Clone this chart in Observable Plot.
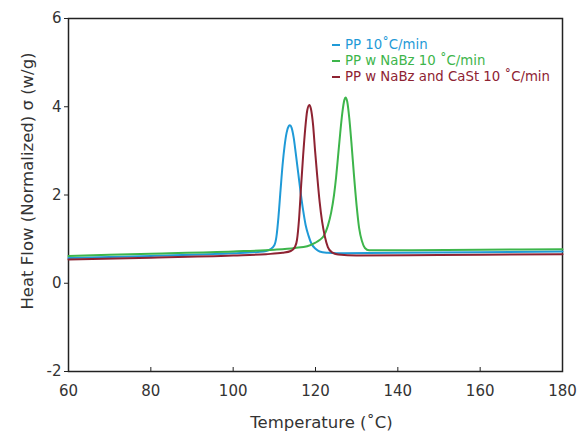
<!DOCTYPE html>
<html><head><meta charset="utf-8">
<script src="https://cdn.jsdelivr.net/npm/d3@7"></script>
<script src="https://cdn.jsdelivr.net/npm/@observablehq/plot@0.6"></script>
<style>
body{margin:0;background:#fff;}
#wrap{position:relative;width:586px;height:432px;font-family:"DejaVu Sans",sans-serif;}
#legend{position:absolute;left:332px;top:37px;font-size:13.3px;line-height:16px;}
#legend div{display:flex;align-items:center;white-space:nowrap;}
#legend span.sw{display:inline-block;width:8px;height:2px;margin-right:5px;}
#ylab{position:absolute;left:27px;top:181px;transform:translate(-50%,-50%) rotate(-90deg);font-size:16.5px;color:#333;white-space:nowrap;}
</style></head>
<body><div id="wrap"><div id="legend"></div><div id="ylab"></div></div>
<script>
const seriesNames = ["PP 10˚C/min", "PP w NaBz 10 ˚C/min", "PP w NaBz and CaSt 10 ˚C/min"];
const seriesColors = ["#1f9ad7", "#3db54b", "#8e2332"];

const ppTemp = [60,80,100,106,108,109,110,110.5,111,111.5,112,112.5,113,113.5,113.8,114.2,114.7,115.2,115.8,116.4,117,117.6,118.3,119,120,121,123,125,140,160,180];
const ppFlow = [0.57,0.62,0.68,0.71,0.73,0.77,0.86,1.05,1.5,2.1,2.68,3.12,3.42,3.56,3.58,3.52,3.30,2.95,2.50,2.05,1.65,1.32,1.08,0.90,0.78,0.72,0.69,0.68,0.69,0.70,0.72];

const nabzTemp = [60,80,100,110,115,118,120,121,122,123,123.8,124.5,125,125.5,126,126.5,127,127.3,127.7,128.2,128.8,129.3,130,130.6,131.3,132,133,140,160,180];
const nabzFlow = [0.62,0.67,0.72,0.76,0.80,0.84,0.92,0.98,1.07,1.3,1.6,2.0,2.4,2.9,3.4,3.85,4.15,4.21,4.12,3.75,3.1,2.5,1.75,1.25,0.95,0.80,0.75,0.75,0.76,0.77];

const castTemp = [60,80,100,108,112,114,115,115.5,116,116.5,117,117.5,118,118.5,118.9,119.4,119.9,120.4,121,121.6,122.3,123,124,125.5,130,150,180];
const castFlow = [0.54,0.58,0.63,0.66,0.69,0.73,0.82,0.98,1.45,2.2,2.9,3.5,3.92,4.04,3.95,3.6,3.0,2.45,1.85,1.4,1.05,0.82,0.70,0.65,0.63,0.64,0.66];

const xTicks = [60,80,100,120,140,160,180];
const yTicks = [-2,0,2,4,6];
const xLabel = "Temperature (˚C)";
const yLabel = "Heat Flow (Normalized) σ (w/g)";

const temps = [ppTemp, nabzTemp, castTemp];
const flows = [ppFlow, nabzFlow, castFlow];
const rows = [];
seriesNames.forEach((s,i)=>temps[i].forEach((t,j)=>rows.push({series:s,t,v:flows[i][j]})));

const chart = Plot.plot({
  width: 586, height: 432,
  marginLeft: 68, marginRight: 24, marginTop: 18, marginBottom: 61,
  style: {fontFamily: '"DejaVu Sans", sans-serif', fontSize: "15px", color: "#333", background: "#fff"},
  x: {domain: [60,180]},
  y: {domain: [-2,6]},
  color: {domain: seriesNames, range: seriesColors},
  marks: [
    Plot.frame({stroke: "#222", strokeWidth: 1.5}),
    Plot.axisX({ticks: xTicks, tickSize: -4, tickPadding: 18, tickFormat: d=>String(d), label: null, stroke: "#222"}),
    Plot.axisY({ticks: yTicks, tickSize: 4, tickPadding: 3, tickFormat: d=>d<0?"-"+Math.abs(d):String(d), label: null, stroke: "#222"}),
    Plot.text([xLabel], {text: d=>d, frameAnchor: "bottom", dx: 6, dy: 51, lineAnchor: "middle", fontSize: 16.5, fill: "#333"}),
    Plot.line(rows, {x: "t", y: "v", z: "series", stroke: "series", strokeWidth: 2, curve: "monotone-x"})
  ]
});
document.getElementById("wrap").prepend(chart);
document.getElementById("ylab").textContent = yLabel;
const lg = document.getElementById("legend");
seriesNames.forEach((s,i)=>{
  const d = document.createElement("div");
  d.style.color = seriesColors[i];
  d.innerHTML = `<span class="sw" style="background:${seriesColors[i]}"></span>${s}`;
  lg.appendChild(d);
});
</script></body></html>
